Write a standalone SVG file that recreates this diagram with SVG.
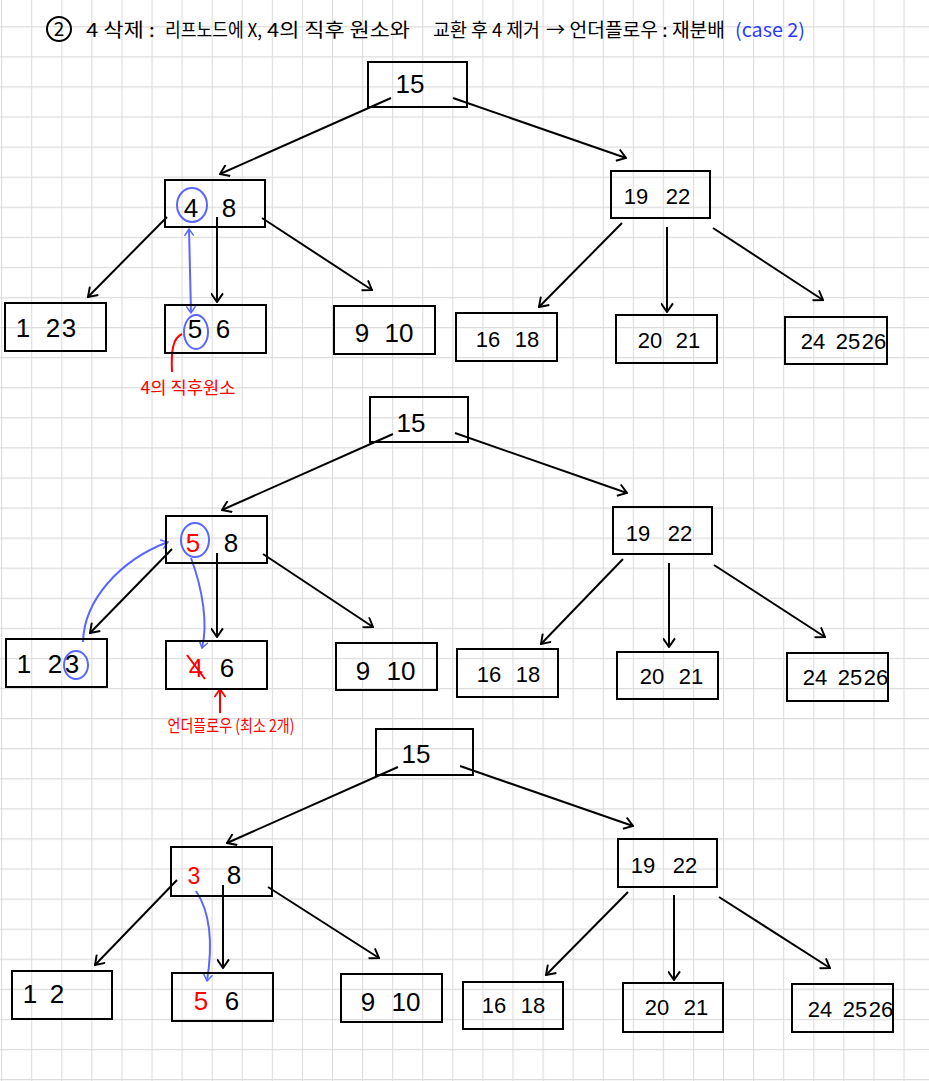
<svg xmlns="http://www.w3.org/2000/svg" width="929" height="1081" viewBox="0 0 929 1081">
<style>
.box{fill:none;stroke:#000;stroke-width:2}
.num{font-family:"Liberation Sans",sans-serif;font-size:26px;fill:#000;text-anchor:middle}
.sm{font-size:22px}
.red{fill:#f00}
.con{stroke:#000;stroke-width:2;fill:none;marker-end:url(#ah)}
.blue{stroke:#5a67ff;stroke-width:2;fill:none}
.bl{marker-end:url(#bh)}
.ko{font-family:"Noto Sans CJK KR","Noto Sans",sans-serif;font-size:19px;fill:#000}
.ko.case{fill:#2b3cff}
.lab{font-family:"Noto Sans CJK KR","Noto Sans",sans-serif;font-size:17px;fill:#f00;text-anchor:middle}
</style>
<defs>
<pattern id="grid" x="1.1" y="26.2" width="30.08" height="30.08" patternUnits="userSpaceOnUse">
<path d="M0.5,0 V30.08 M0,0.5 H30.08" stroke="#dcdcdc" stroke-width="1.2" fill="none"/>
</pattern>
<marker id="ah" viewBox="0 0 12 12" refX="11" refY="6" markerWidth="13" markerHeight="13" orient="auto" markerUnits="userSpaceOnUse">
<path d="M3,0.5 L11,6 L3,11.5" fill="none" stroke="#000" stroke-width="1.8"/>
</marker>
<marker id="bh" viewBox="0 0 12 12" refX="11" refY="6" markerWidth="10" markerHeight="10" orient="auto" markerUnits="userSpaceOnUse">
<path d="M3,0.5 L11,6 L3,11.5" fill="none" stroke="#5a67ff" stroke-width="1.8"/>
</marker>
<marker id="bs" viewBox="0 0 12 12" refX="1" refY="6" markerWidth="10" markerHeight="10" orient="auto" markerUnits="userSpaceOnUse">
<path d="M9,0.5 L1,6 L9,11.5" fill="none" stroke="#5a67ff" stroke-width="1.8"/>
</marker>
<marker id="rh" viewBox="0 0 12 12" refX="11" refY="6" markerWidth="12" markerHeight="12" orient="auto" markerUnits="userSpaceOnUse">
<path d="M3,0.5 L11,6 L3,11.5" fill="none" stroke="#f00" stroke-width="1.8"/>
</marker>
</defs>
<rect width="929" height="1081" fill="#fff"/>
<rect width="929" height="1081" fill="url(#grid)"/>

<g id="title">
<circle cx="59" cy="29" r="12" fill="none" stroke="#000" stroke-width="2"/>
<text x="59" y="36" class="ko" text-anchor="middle">2</text>
<text class="ko" x="86" y="37" textLength="69" lengthAdjust="spacingAndGlyphs">4 삭제 :</text>
<text class="ko" x="165" y="37" textLength="97" lengthAdjust="spacingAndGlyphs">리프노드에 X,</text>
<text class="ko" x="267" y="37" textLength="143" lengthAdjust="spacingAndGlyphs">4의 직후 원소와</text>
<text class="ko" x="433" y="37" textLength="107" lengthAdjust="spacingAndGlyphs">교환 후 4 제거</text>
<text class="ko" x="546" y="37" textLength="179" lengthAdjust="spacingAndGlyphs">→ 언더플로우 : 재분배</text>
<text class="ko case" x="735" y="37" textLength="70" lengthAdjust="spacingAndGlyphs">(case 2)</text>
</g>

<g id="connectors">
<line class="con" x1="391" y1="98" x2="220" y2="174"/>
<line class="con" x1="453" y1="98" x2="626" y2="158"/>
<line class="con" x1="167" y1="217" x2="88" y2="297"/>
<line class="con" x1="217" y1="217" x2="217" y2="302"/>
<line class="con" x1="262" y1="218" x2="372" y2="290"/>
<line class="con" x1="622" y1="223" x2="539" y2="307"/>
<line class="con" x1="667" y1="227" x2="667" y2="312"/>
<line class="con" x1="713" y1="228" x2="823" y2="300"/>
<line class="blue bl" x1="189" y1="229" x2="191" y2="313" marker-start="url(#bs)"/>
<path d="M182,334 C173,338 171,350 172,372" stroke="#f00" stroke-width="2" fill="none"/>

<line class="con" x1="393" y1="434" x2="222" y2="510"/>
<line class="con" x1="455" y1="433" x2="627" y2="493"/>
<line class="con" x1="172" y1="549" x2="90" y2="633"/>
<line class="con" x1="217" y1="553" x2="217" y2="637"/>
<line class="con" x1="263" y1="554" x2="373" y2="627"/>
<line class="con" x1="623" y1="559" x2="541" y2="644"/>
<line class="con" x1="669" y1="563" x2="669" y2="647"/>
<line class="con" x1="714" y1="565" x2="825" y2="637"/>
<path class="blue bl" d="M83,642 C84,600 120,560 168,542"/>
<path class="blue bl" d="M191,558 C203,590 208,625 202,648"/>
<line x1="220" y1="713" x2="220" y2="689" stroke="#f00" stroke-width="2" marker-end="url(#rh)"/>

<line class="con" x1="398" y1="767" x2="227" y2="843"/>
<line class="con" x1="460" y1="766" x2="633" y2="826"/>
<line class="con" x1="177" y1="880" x2="95" y2="965"/>
<line class="con" x1="223" y1="885" x2="223" y2="968"/>
<line class="con" x1="268" y1="887" x2="379" y2="958"/>
<line class="con" x1="628" y1="892" x2="546" y2="975"/>
<line class="con" x1="674" y1="895" x2="674" y2="980"/>
<line class="con" x1="719" y1="897" x2="830" y2="968"/>
<path class="blue bl" d="M196,891 C212,915 212,950 207,981"/>
</g>

<!-- Tree 1 -->
<g id="t1-root"><rect class="box" x="368" y="62" width="99" height="45"/><text class="num" x="410" y="93" font-size="28">15</text></g>
<g id="t1-n48"><rect class="box" x="165" y="180" width="100" height="47"/><text class="num" y="217"><tspan x="191">4</tspan><tspan x="229">8</tspan></text><ellipse cx="192" cy="205" rx="15" ry="17" class="blue"/></g>
<g id="t1-l123"><rect class="box" x="5" y="303" width="101" height="48"/><text class="num" y="337"><tspan x="23">1</tspan><tspan x="53">2</tspan><tspan x="69">3</tspan></text></g>
<g id="t1-l56"><rect class="box" x="165" y="305" width="101" height="48"/><text class="num" y="338"><tspan x="195">5</tspan><tspan x="223">6</tspan></text><ellipse cx="196" cy="332" rx="12" ry="17" class="blue"/></g>
<g id="t1-l910"><rect class="box" x="334" y="306" width="101" height="48"/><text class="num" y="342"><tspan x="362">9</tspan><tspan x="399">10</tspan></text></g>
<g id="t1-n1922"><rect class="box" x="611" y="171" width="99" height="47"/><text class="num sm" y="204"><tspan x="636">19</tspan><tspan x="678">22</tspan></text></g>
<g id="t1-l1618"><rect class="box" x="456" y="313" width="101" height="48"/><text class="num sm" y="347"><tspan x="488">16</tspan><tspan x="527">18</tspan></text></g>
<g id="t1-l2021"><rect class="box" x="616" y="315" width="101" height="48"/><text class="num sm" y="348"><tspan x="650">20</tspan><tspan x="688">21</tspan></text></g>
<g id="t1-l242526"><rect class="box" x="785" y="317" width="102" height="47"/><text class="num sm" y="349"><tspan x="813">24</tspan><tspan x="848">25</tspan><tspan x="874">26</tspan></text></g>
<g id="t1-label"><text class="lab" x="188" y="394" textLength="95" lengthAdjust="spacingAndGlyphs">4의 직후원소</text></g>

<!-- Tree 2 -->
<g id="t2-root"><rect class="box" x="370" y="397" width="98" height="45"/><text class="num" x="411" y="432" font-size="28">15</text></g>
<g id="t2-n58"><rect class="box" x="166" y="516" width="101" height="47"/><text class="num" y="552"><tspan x="193" class="red">5</tspan><tspan x="231">8</tspan></text><ellipse cx="195" cy="540" rx="14" ry="17" class="blue"/></g>
<g id="t2-l123"><rect class="box" x="6" y="639" width="101" height="48"/><text class="num" y="673"><tspan x="24">1</tspan><tspan x="55">2</tspan><tspan x="72">3</tspan></text><ellipse cx="76" cy="665" rx="12" ry="14" class="blue"/></g>
<g id="t2-lx6"><rect class="box" x="166" y="641" width="101" height="48"/><text class="num" y="677"><tspan x="196" class="red">4</tspan><tspan x="227">6</tspan></text><line x1="187" y1="655" x2="205" y2="679" stroke="#f00" stroke-width="2"/></g>
<g id="t2-l910"><rect class="box" x="336" y="643" width="101" height="47"/><text class="num" y="680"><tspan x="363">9</tspan><tspan x="401">10</tspan></text></g>
<g id="t2-n1922"><rect class="box" x="613" y="507" width="99" height="47"/><text class="num sm" y="541"><tspan x="638">19</tspan><tspan x="680">22</tspan></text></g>
<g id="t2-l1618"><rect class="box" x="457" y="649" width="101" height="48"/><text class="num sm" y="682"><tspan x="489">16</tspan><tspan x="528">18</tspan></text></g>
<g id="t2-l2021"><rect class="box" x="617" y="652" width="101" height="47"/><text class="num sm" y="684"><tspan x="652">20</tspan><tspan x="691">21</tspan></text></g>
<g id="t2-l242526"><rect class="box" x="787" y="653" width="101" height="48"/><text class="num sm" y="685"><tspan x="815">24</tspan><tspan x="850">25</tspan><tspan x="876">26</tspan></text></g>
<g id="t2-label"><text class="lab" x="231" y="732" font-size="15" textLength="127" lengthAdjust="spacingAndGlyphs">언더플로우 (최소 2개)</text></g>

<!-- Tree 3 -->
<g id="t3-root"><rect class="box" x="376" y="729" width="97" height="46"/><text class="num" x="416" y="763" font-size="28">15</text></g>
<g id="t3-n38"><rect class="box" x="171" y="847" width="101" height="49"/><text class="num" y="884"><tspan x="194" class="red" font-size="23">3</tspan><tspan x="234">8</tspan></text></g>
<g id="t3-l12"><rect class="box" x="12" y="971" width="100" height="48"/><text class="num" y="1003"><tspan x="30">1</tspan><tspan x="57">2</tspan></text></g>
<g id="t3-l56"><rect class="box" x="172" y="973" width="101" height="48"/><text class="num" y="1010"><tspan x="201" class="red">5</tspan><tspan x="232">6</tspan></text></g>
<g id="t3-l910"><rect class="box" x="341" y="974" width="101" height="48"/><text class="num" y="1011"><tspan x="368">9</tspan><tspan x="406">10</tspan></text></g>
<g id="t3-n1922"><rect class="box" x="618" y="839" width="99" height="48"/><text class="num sm" y="873"><tspan x="643">19</tspan><tspan x="685">22</tspan></text></g>
<g id="t3-l1618"><rect class="box" x="463" y="982" width="100" height="47"/><text class="num sm" y="1013"><tspan x="494">16</tspan><tspan x="533">18</tspan></text></g>
<g id="t3-l2021"><rect class="box" x="623" y="983" width="100" height="49"/><text class="num sm" y="1015"><tspan x="657">20</tspan><tspan x="696">21</tspan></text></g>
<g id="t3-l242526"><rect class="box" x="792" y="984" width="101" height="48"/><text class="num sm" y="1017"><tspan x="820">24</tspan><tspan x="855">25</tspan><tspan x="881">26</tspan></text></g>
</svg>
